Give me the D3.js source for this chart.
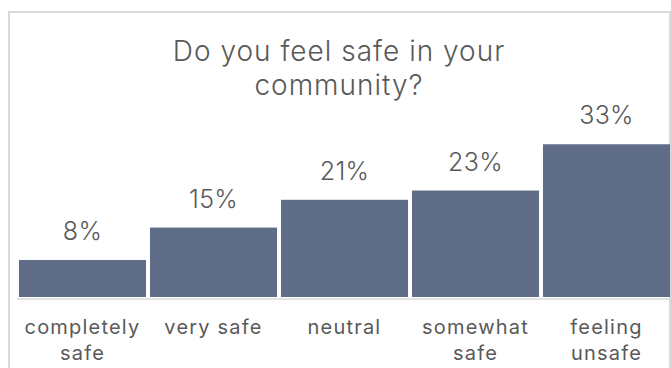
<!DOCTYPE html>
<html>
<head>
<meta charset="utf-8">
<script src="https://cdn.jsdelivr.net/npm/d3@7"></script>
<style>
  html, body { margin: 0; padding: 0; background: #fff; }
  svg { display: block; }
  text { font-family: Inter, "Open Sans", sans-serif; fill: #595959; }
</style>
</head>
<body>
<svg id="chart" width="671" height="368"></svg>
<script>
// Survey responses: "Do you feel safe in your community?"
const categories = ["completely safe", "very safe", "neutral", "somewhat safe", "feeling unsafe"];
const categoryLines = [["completely", "safe"], ["very safe"], ["neutral"], ["somewhat", "safe"], ["feeling", "unsafe"]];
const shares = [8, 15, 21, 23, 33];
const titleLines = ["Do you feel safe in your", "community?"];

const svg = d3.select("#chart");

// chart frame
svg.append("rect")
  .attr("x", 9).attr("y", 12)
  .attr("width", 661).attr("height", 420)
  .attr("fill", "none")
  .attr("stroke", "#d9d9d9")
  .attr("stroke-width", 2);

const x = d3.scaleBand()
  .domain(categories)
  .range([17, 672])
  .paddingInner(0.03)
  .paddingOuter(0.015);

const baseline = 297;
const y = d3.scaleLinear()
  .domain([0, 35])
  .range([baseline, 135]);

// bars
svg.append("g")
  .selectAll("rect")
  .data(shares)
  .join("rect")
  .attr("x", (d, i) => x(categories[i]))
  .attr("width", x.bandwidth())
  .attr("y", d => y(d))
  .attr("height", d => y(0) - y(d))
  .attr("fill", "#5f6d88");

// category axis line
svg.append("line")
  .attr("x1", 17).attr("x2", 672)
  .attr("y1", baseline + 2).attr("y2", baseline + 2)
  .attr("stroke", "#d9d9d9")
  .attr("stroke-width", 1.5);

// value labels
svg.append("g")
  .selectAll("text")
  .data(shares)
  .join("text")
  .attr("x", (d, i) => x(categories[i]) + x.bandwidth() / 2)
  .attr("y", d => y(d) - 20)
  .attr("text-anchor", "middle")
  .attr("font-size", 25)
  .attr("font-weight", 300)
  .attr("letter-spacing", 0.3)
  .text(d => d + "%");

// category labels, one text per line
categories.forEach((c, i) => {
  categoryLines[i].forEach((line, j) => {
    svg.append("text")
      .attr("x", x(c) + x.bandwidth() / 2)
      .attr("y", 334 + j * 26)
      .attr("text-anchor", "middle")
      .attr("font-size", 20)
      .attr("letter-spacing", 1.2)
      .text(line);
  });
});

// title
titleLines.forEach((line, i) => {
  svg.append("text")
    .attr("x", 339)
    .attr("y", 61 + i * 34)
    .attr("text-anchor", "middle")
    .attr("font-size", 28)
    .attr("font-weight", 300)
    .attr("letter-spacing", 1)
    .text(line);
});
</script>
</body>
</html>
